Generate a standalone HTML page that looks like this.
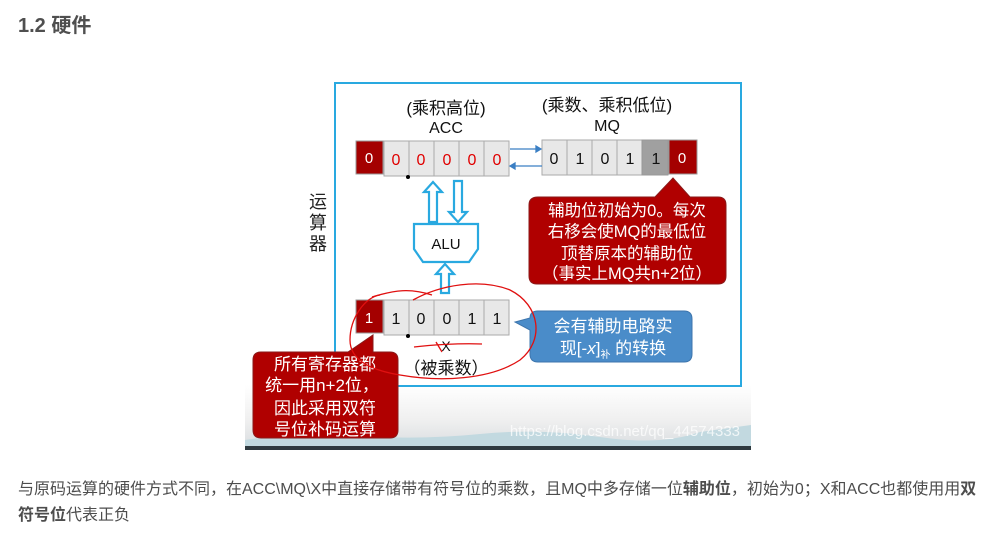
<!DOCTYPE html>
<html><head><meta charset="utf-8"><style>
body{margin:0;width:997px;height:535px;background:#fff;position:relative;overflow:hidden;font-family:"Liberation Sans","Noto Sans CJK SC",sans-serif;}
h2{position:absolute;left:18px;top:9px;margin:0;font-size:20px;font-weight:bold;color:#4f4f4f;}
p{position:absolute;left:18px;top:477px;margin:0;font-size:16px;line-height:26px;color:#4d4d4d;width:975px;white-space:nowrap;}
svg{position:absolute;left:0;top:0;}
</style></head><body>
<h2>1.2 硬件</h2>
<svg width="997" height="535" viewBox="0 0 997 535" font-family="Liberation Sans, Noto Sans CJK SC, sans-serif">
<defs>
<linearGradient id="bg" x1="0" y1="0" x2="0" y2="1">
<stop offset="0" stop-color="#fff"/><stop offset="0.55" stop-color="#f0f0f0"/><stop offset="1" stop-color="#d9dde0"/>
</linearGradient>
</defs>
<rect x="245" y="385" width="506" height="63" fill="url(#bg)"/>
<path d="M245 440 Q300 432 360 436 T480 434 T600 437 T700 432 L751 425 L751 447 L245 447Z" fill="#c2d9e0"/>
<rect x="245" y="446" width="506" height="4" fill="#2f3a40"/>
<rect x="335" y="83" width="406" height="303" fill="#fff" stroke="#29a9e0" stroke-width="2"/>
<text x="318" y="208" font-size="18" text-anchor="middle" fill="#222">运</text>
<text x="318" y="229" font-size="18" text-anchor="middle" fill="#222">算</text>
<text x="318" y="250" font-size="18" text-anchor="middle" fill="#222">器</text>
<text x="446" y="114" font-size="17" text-anchor="middle" fill="#111">(乘积高位)</text>
<text x="446" y="133" font-size="16" text-anchor="middle" fill="#111">ACC</text>
<text x="607" y="111" font-size="17" text-anchor="middle" fill="#111">(乘数、乘积低位)</text>
<text x="607" y="131" font-size="16" text-anchor="middle" fill="#111">MQ</text>
<rect x="356" y="141" width="27" height="33" fill="#a40000" stroke="#999"/>
<text x="369" y="163" font-size="15" fill="#fff" text-anchor="middle">0</text>
<g fill="#e8e8e8" stroke="#aaa">
<rect x="384" y="141" width="25" height="35"/><rect x="409" y="141" width="25" height="35"/><rect x="434" y="141" width="25" height="35"/><rect x="459" y="141" width="25" height="35"/><rect x="484" y="141" width="25" height="35"/>
</g>
<g font-size="16" fill="#e00000" text-anchor="middle">
<text x="396" y="165">0</text><text x="421" y="165">0</text><text x="447" y="165">0</text><text x="472" y="165">0</text><text x="497" y="165">0</text></g>
<circle cx="408" cy="177" r="2" fill="#000"/>
<g fill="#e8e8e8" stroke="#aaa">
<rect x="542" y="140" width="25" height="35"/><rect x="567" y="140" width="25" height="35"/><rect x="592" y="140" width="25" height="35"/><rect x="617" y="140" width="25" height="35"/></g>
<rect x="642" y="140" width="26" height="35" fill="#a0a0a0" stroke="#999"/>
<rect x="669" y="140" width="28" height="34" fill="#a40000" stroke="#999"/>
<g font-size="16" fill="#111" text-anchor="middle">
<text x="554" y="164">0</text><text x="580" y="164">1</text><text x="605" y="164">0</text><text x="630" y="164">1</text><text x="656" y="164">1</text></g>
<text x="682" y="163" font-size="15" fill="#fff" text-anchor="middle">0</text>
<g stroke="#3b7fc4" stroke-width="1.3" fill="#3b7fc4">
<line x1="510" y1="149" x2="538" y2="149"/><path d="M541 149 l-5 -3 v6z"/>
<line x1="513" y1="166" x2="542" y2="166"/><path d="M510 166 l5 -3 v6z"/></g>
<g fill="#fff" stroke="#29a9e0" stroke-width="2.2">
<path d="M433 182 l-9 10 h5 v30 h8 v-30 h5z"/>
<path d="M458 222 l-9 -10 h5 v-31 h8 v31 h5z"/>
<path d="M445 264 l-9 10 h5 v19 h8 v-19 h5z"/>
<path d="M414 224 h64 v25 l-9 13 h-46 l-9 -13z"/>
</g>
<text x="446" y="249" font-size="15" text-anchor="middle" fill="#111">ALU</text>
<rect x="356" y="300" width="27" height="33" fill="#a40000" stroke="#999"/>
<text x="369" y="323" font-size="15" fill="#fff" text-anchor="middle">1</text>
<g fill="#e8e8e8" stroke="#aaa">
<rect x="384" y="300" width="25" height="35"/><rect x="409" y="300" width="25" height="35"/><rect x="434" y="300" width="25" height="35"/><rect x="459" y="300" width="25" height="35"/><rect x="484" y="300" width="25" height="35"/></g>
<g font-size="16" fill="#111" text-anchor="middle">
<text x="396" y="324">1</text><text x="421" y="324">0</text><text x="447" y="324">0</text><text x="472" y="324">1</text><text x="497" y="324">1</text></g>
<circle cx="408" cy="336" r="2" fill="#000"/>
<text x="446" y="351" font-size="14" text-anchor="middle" fill="#111">X</text>
<text x="446" y="374" font-size="17" text-anchor="middle" fill="#111">（被乘数）</text>
<path d="M538 197 H655 L673 178 L690 197 H718 Q726 197 726 205 V276 Q726 284 718 284 H537 Q529 284 529 276 V205 Q529 197 538 197Z" fill="#b00000" stroke="#8a1a1a"/>
<g font-size="16.5" fill="#fff" text-anchor="middle">
<text x="627" y="216">辅助位初始为0。每次</text>
<text x="627" y="237">右移会使MQ的最低位</text>
<text x="627" y="259">顶替原本的辅助位</text>
<text x="627" y="279">（事实上MQ共n+2位）</text></g>
<path d="M538 311 H684 Q692 311 692 319 V354 Q692 362 684 362 H538 Q530 362 530 354 V330 L515 322 L530 318 Q530 311 538 311Z" fill="#4a8cc9" stroke="#3d75ad"/>
<g font-size="17" fill="#fff" text-anchor="middle">
<text x="613" y="332">会有辅助电路实</text>
<text x="613" y="354">现[-<tspan font-style="italic">x</tspan>]<tspan font-size="10" dy="4">补</tspan><tspan dy="-4"> 的转换</tspan></text></g>
<path d="M261 352 H348 L373 335 L373 352 H390 Q398 352 398 360 V430 Q398 438 390 438 H261 Q253 438 253 430 V360 Q253 352 261 352Z" fill="#b00000" stroke="#8a1a1a"/>
<g font-size="17" fill="#fff" text-anchor="middle">
<text x="325" y="370">所有寄存器都</text>
<text x="322" y="391">统一用n+2位，</text>
<text x="325" y="414">因此采用双符</text>
<text x="325" y="435">号位补码运算</text></g>
<g fill="none" stroke="#e01010" stroke-width="1.3">
<path d="M372 297 C395 290 410 288 432 295"/>
<path d="M413 300 C440 285 480 278 510 290 C540 305 545 340 520 360 C490 380 440 382 400 375 C370 370 350 360 350 340 C350 318 365 297 380 295"/>
<path d="M414 347 C430 345 460 343 482 344"/>
<path d="M436 342 L442 352"/>
</g>
<text x="740" y="436" font-size="15" fill="#fff" fill-opacity="0.75" text-anchor="end">https://blog.csdn.net/qq_44574333</text>
</svg>
<p>与原码运算的硬件方式不同，在ACC\MQ\X中直接存储带有符号位的乘数，且MQ中多存储一位<b>辅助位</b>，初始为0；X和ACC也都使用用<b>双</b><br><b>符号位</b>代表正负</p>
</body></html>
